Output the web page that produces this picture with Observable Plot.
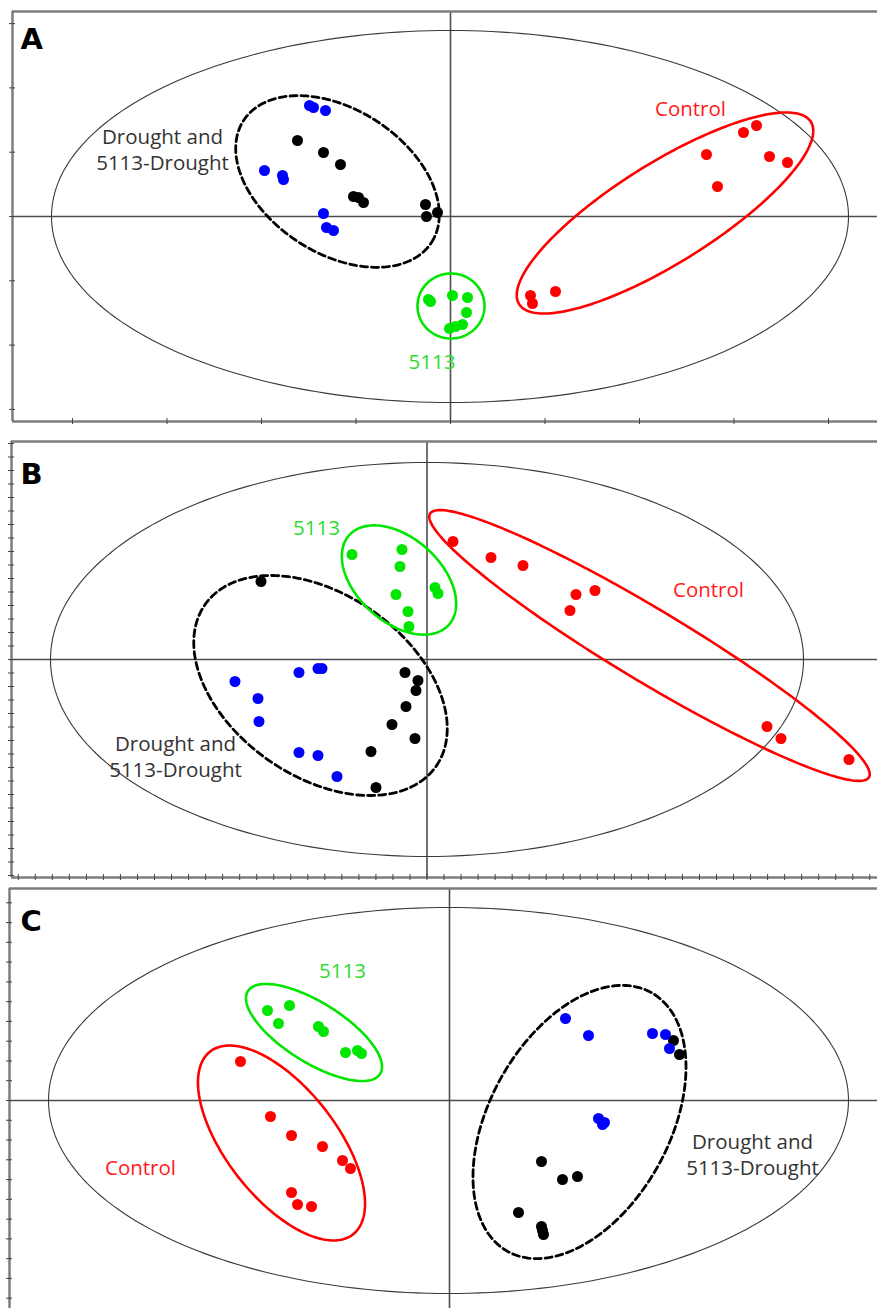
<!DOCTYPE html>
<html><head><meta charset="utf-8">
<script src="https://cdn.jsdelivr.net/npm/d3@7"></script>
<script src="https://cdn.jsdelivr.net/npm/@observablehq/plot@0.6"></script>
<style>
html,body{margin:0;padding:0;background:#fff;}
#chart svg{display:block;}
</style></head><body><div id="chart"></div>
<script>
// ---------- Panel A scores (t1, t2) ----------
const aControl = [[25.6,6.2],[26.7,3.0],[29.3,8.4],[30.6,9.1],[31.9,6.0],[33.7,5.4],[8.0,-7.9],[8.2,-8.7],[10.5,-7.5]];
const a5113 = [[-2.2,-8.3],[-2.0,-8.5],[0.2,-7.9],[1.7,-8.1],[1.6,-9.6],[-0.1,-11.2],[0.5,-11.0],[1.2,-10.8]];
const aDrought = [[-15.3,7.6],[-12.7,6.4],[-11.0,5.2],[-9.7,2.0],[-9.2,1.9],[-8.7,1.4],[-2.5,1.2],[-2.4,0.0],[-1.3,0.4]];
const a5113Drought = [[-14.1,11.1],[-13.7,10.9],[-12.5,10.6],[-18.6,4.6],[-16.8,4.1],[-16.7,3.7],[-12.7,0.3],[-12.4,-1.1],[-11.7,-1.4]];
const aEllipses = [
  {group:"T2", cx:-0.05, cy:0, a:39.85, b:18.6, angle:0},
  {group:"Drought", cx:-11.3, cy:3.5, a:11.2, b:7.2, angle:-33},
  {group:"5113", cx:0.05, cy:-8.95, a:3.35, b:3.25, angle:0},
  {group:"Control", cx:21.45, cy:0.35, a:17.2, b:5.0, angle:32}
];
const aLabels = [
  {text:"Drought and\n5113-Drought", x:-28.8, y:6.8, group:"Drought"},
  {text:"Control", x:24.0, y:10.9, group:"Control"},
  {text:"5113", x:-1.85, y:-14.4, group:"5113"}
];
const aXDomain = [-43.8, 42.7], aYDomain = [-20.5, 20.5];
const aXTickStep = 9.45, aYTickStep = 6.43;

// ---------- Panel B ----------
const bControl = [[2.6,11.8],[6.4,10.2],[9.6,9.4],[14.9,6.5],[16.8,6.9],[14.3,4.9],[34.0,-6.7],[35.4,-7.9],[42.2,-10.0]];
const b5113 = [[-7.5,10.5],[-2.5,11.0],[-2.7,9.3],[-3.1,6.5],[-1.9,4.8],[-1.8,3.3],[0.8,7.2],[1.1,6.6]];
const bDrought = [[-16.6,7.8],[-2.2,-1.3],[-0.9,-2.1],[-1.1,-3.1],[-2.1,-4.7],[-3.5,-6.5],[-1.2,-7.9],[-5.6,-9.2],[-5.1,-12.8]];
const b5113Drought = [[-19.2,-2.2],[-16.9,-3.9],[-16.8,-6.2],[-12.8,-1.3],[-10.9,-0.9],[-10.5,-0.9],[-12.8,-9.3],[-10.9,-9.6],[-9.0,-11.7]];
const bEllipses = [
  {group:"T2", cx:0, cy:0, a:37.65, b:19.7, angle:0},
  {group:"Drought", cx:-10.65, cy:-2.6, a:14.1, b:9.1, angle:-35},
  {group:"5113", cx:-2.8, cy:7.95, a:6.7, b:4.2, angle:-42},
  {group:"Control", cx:22.25, cy:1.4, a:25.6, b:3.6, angle:-31}
];
const bLabels = [
  {text:"Drought and\n5113-Drought", x:-25.15, y:-9.6, group:"Drought"},
  {text:"Control", x:28.15, y:7.1, group:"Control"},
  {text:"5113", x:-11.05, y:13.3, group:"5113"}
];
const bXDomain = [-41.55, 45.05], bYDomain = [-21.8, 21.8];
const bXTickStep = 1.703, bYTickStep = 1.35;

// ---------- Panel C ----------
const cControl = [[-20.9,3.9],[-17.9,-1.6],[-15.8,-3.5],[-12.7,-4.6],[-10.7,-6.0],[-9.9,-6.8],[-15.8,-9.2],[-15.2,-10.4],[-13.8,-10.6]];
const c5113 = [[-18.2,9.0],[-16.0,9.5],[-17.1,7.7],[-13.1,7.4],[-12.6,6.9],[-10.4,4.8],[-9.2,5.0],[-8.8,4.7]];
const cDrought = [[22.4,6.0],[23.0,4.6],[9.2,-6.1],[11.3,-7.9],[12.8,-7.6],[6.9,-11.2],[9.2,-12.6],[9.4,-13.4],[9.3,-13.0]];
const c5113Drought = [[11.6,8.2],[13.9,6.5],[20.3,6.7],[21.6,6.6],[22.0,5.2],[14.9,-1.8],[15.5,-2.2],[15.3,-2.4]];
const cEllipses = [
  {group:"T2", cx:-0.1, cy:0, a:40.0, b:19.3, angle:0},
  {group:"5113", cx:-13.55, cy:6.8, a:7.8, b:3.0, angle:-32},
  {group:"Control", cx:-16.8, cy:-4.25, a:11.6, b:5.5, angle:-52},
  {group:"Drought", cx:13.0, cy:-2.15, a:14.8, b:9.0, angle:61}
];
const cLabels = [
  {text:"Drought and\n5113-Drought", x:30.3, y:-5.3, group:"Drought"},
  {text:"Control", x:-30.9, y:-6.6, group:"Control"},
  {text:"5113", x:-10.7, y:13.1, group:"5113"}
];
const cXDomain = [-44.0, 42.8], cYDomain = [-20.8, 21.2];
const cYTickStep = 1.977;

// ---------- styles ----------
const pointColor = {"Control":"#ff0000", "5113":"#00e600", "Drought":"#000000", "5113-Drought":"#0000ff"};
const labelColor = {"Control":"#ff1a1a", "5113":"#2edc2e", "Drought":"#333333"};
const ellipseStyle = {
  "T2": {stroke:"#3a3a3a", strokeWidth:1.1},
  "Drought": {stroke:"#000", strokeWidth:2.8, strokeDasharray:"7,4"},
  "5113": {stroke:"#00e600", strokeWidth:2.6},
  "Control": {stroke:"#ff0000", strokeWidth:2.6}
};

function toPoints(arr, group) { return arr.map(([x, y]) => ({x, y, group})); }
function outline(e) {
  const th = e.angle * Math.PI / 180, n = 240;
  return d3.range(n).map(i => {
    const t = 2 * Math.PI * i / n;
    const u = e.a * Math.cos(t), v = e.b * Math.sin(t);
    return {x: e.cx + u * Math.cos(th) - v * Math.sin(th), y: e.cy + u * Math.sin(th) + v * Math.cos(th)};
  });
}
function ticks(domain, step) {
  const lo = Math.ceil(domain[0] / step - 1e-9), hi = Math.floor(domain[1] / step + 1e-9);
  return d3.range(lo, hi + 1).map(i => i * step);
}

function panel(o) {
  const frame = {stroke:"#7d7d7d", strokeWidth:2.5};
  const marks = [
    Plot.ruleY([0], {stroke:"#4d4d4d", strokeWidth:1.6}),
    Plot.ruleX([0], {stroke:"#4d4d4d", strokeWidth:1.6}),
    ...o.ellipses.map(e => Plot.line(outline(e), {x:"x", y:"y", curve:"linear-closed", ...ellipseStyle[e.group]})),
    Plot.dot(o.points, {x:"x", y:"y", r:5.5, fill: d => pointColor[d.group], stroke:"none"}),
    Plot.text(o.labels, {x:"x", y:"y", text:"text", fill: d => labelColor[d.group], fontSize:20.5, fontFamily:"Open Sans", lineHeight:1.3}),
    Plot.ruleY([o.yDomain[1]], frame),
    Plot.ruleX([o.xDomain[0]], frame)
  ];
  if (o.bottomFrame) marks.push(Plot.ruleY([o.yDomain[0]], frame));
  if (o.xTickStep) marks.push(Plot.axisX(ticks(o.xDomain, o.xTickStep), {anchor:"bottom", tickSize:6, dy:-3, fill:"none", label:null, stroke:"#444"}));
  if (o.yTickStep) marks.push(Plot.axisY(ticks(o.yDomain, o.yTickStep), {anchor:"left", tickSize:6, dx:3, fill:"none", label:null, stroke:"#444"}));
  marks.push(Plot.text([o.letter], {frameAnchor:"top-left", dx:o.letterDx, dy:o.letterDy, fontSize:29, fontWeight:900, fontFamily:"DejaVu Sans", fill:"#000"}));
  return Plot.plot({
    width: 877, height: o.height,
    marginTop: o.mt, marginRight: 0, marginBottom: o.mb, marginLeft: o.ml,
    x: {domain: o.xDomain, axis: null},
    y: {domain: o.yDomain, axis: null},
    color: {type: "identity"},
    style: {background: "#fff", overflow: "visible"},
    marks
  });
}

const chart = document.getElementById("chart");
chart.append(panel({
  letter:"A", letterDx:8, letterDy:17, height:430, mt:11, mb:9, ml:12, bottomFrame:true,
  xDomain:aXDomain, yDomain:aYDomain, xTickStep:aXTickStep, yTickStep:aYTickStep,
  ellipses:aEllipses, labels:aLabels,
  points:[...toPoints(aControl,"Control"), ...toPoints(a5113,"5113"), ...toPoints(aDrought,"Drought"), ...toPoints(a5113Drought,"5113-Drought")]
}));
chart.append(panel({
  letter:"B", letterDx:9, letterDy:22, height:452, mt:11, mb:5, ml:11, bottomFrame:true,
  xDomain:bXDomain, yDomain:bYDomain, xTickStep:bXTickStep, yTickStep:bYTickStep,
  ellipses:bEllipses, labels:bLabels,
  points:[...toPoints(bControl,"Control"), ...toPoints(b5113,"5113"), ...toPoints(bDrought,"Drought"), ...toPoints(b5113Drought,"5113-Drought")]
}));
chart.append(panel({
  letter:"C", letterDx:11, letterDy:22, height:426, mt:6, mb:0, ml:9, bottomFrame:false,
  xDomain:cXDomain, yDomain:cYDomain, xTickStep:null, yTickStep:cYTickStep,
  ellipses:cEllipses, labels:cLabels,
  points:[...toPoints(cControl,"Control"), ...toPoints(c5113,"5113"), ...toPoints(cDrought,"Drought"), ...toPoints(c5113Drought,"5113-Drought")]
}));
</script></body></html>
